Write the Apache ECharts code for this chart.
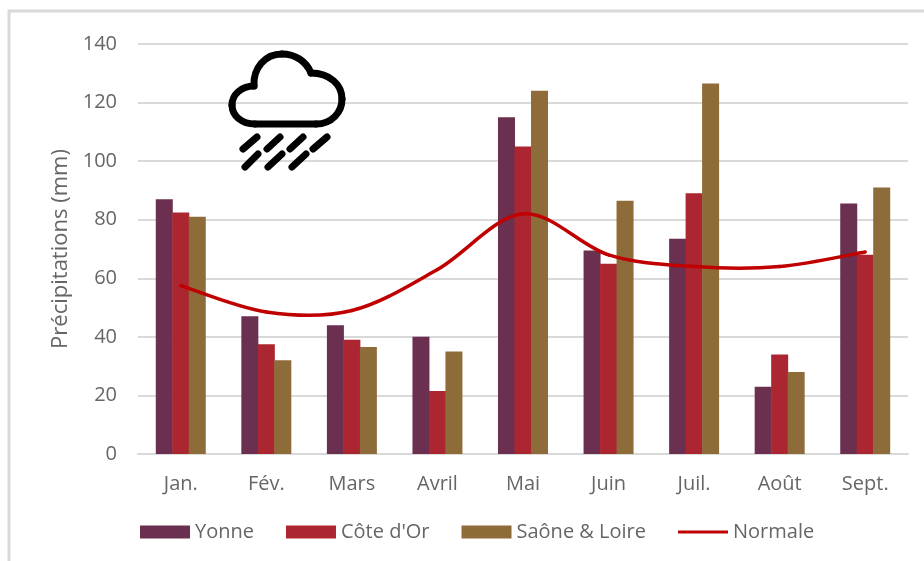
<!DOCTYPE html>
<html><head><meta charset="utf-8">
<style>html,body{margin:0;padding:0;background:#fff}#c{width:924px;height:561px}</style>
<script src="https://cdn.jsdelivr.net/npm/echarts@6/dist/echarts.min.js"></script>
</head><body><div id="c"></div>
<script>
const months = ["Jan.","Fév.","Mars","Avril","Mai","Juin","Juil.","Août","Sept."];
const yonne = [87,47,44,40,115,69.5,73.5,23,85.5];
const coteDor = [82.5,37.5,39,21.5,105,65,89,34,68];
const saone = [81,32,36.5,35,124,86.5,126.5,28,91];
const normale = [57.5,48.5,49,63,82,68,64,64,69];
const font = "Open Sans";
const txt = "#666666";
const lineColor = "#C00000";
const rainDrops = [[243,149,257,137],[267,149,280,137],[290,149,303,137],[313,149,327,137],[245,167,258,154],[268,167,282,154],[292,167,306,154]];
const cloudCurves = [
  [316,124,332,124,342,112,342,99],
  [342,99,342,85,330,73,311,73],
  [311,73,306,61,295,54,282,54],
  [282,54,265,54,253,68,254,86],
  [254,86,241,86,232,95,232,105],
  [232,105,232,116,242,124,255,124]
];
const bar = (name,data,color)=>({name,type:"bar",data,barWidth:17,barGap:"-3%",itemStyle:{color},z:2});
function smoothSegment(params, api){
  const i = params.dataIndex, n = normale.length;
  if (i >= n-1) return null;
  const p = k => api.coord([Math.max(0,Math.min(n-1,k)), normale[Math.max(0,Math.min(n-1,k))]]);
  const p0=p(i-1), p1=p(i), p2=p(i+1), p3=p(i+2);
  return {type:"bezierCurve",shape:{
      x1:p1[0],y1:p1[1],x2:p2[0],y2:p2[1],
      cpx1:p1[0]+(p2[0]-p0[0])/6,cpy1:p1[1]+(p2[1]-p0[1])/6,
      cpx2:p2[0]-(p3[0]-p1[0])/6,cpy2:p2[1]-(p3[1]-p1[1])/6},
    style:{fill:"none",stroke:lineColor,lineWidth:3.5,lineCap:"round"}};
}
const chart = echarts.init(document.getElementById("c"),null,{renderer:"canvas"});
chart.setOption({
  animation:false,
  backgroundColor:"#fff",
  textStyle:{fontFamily:font},
  grid:{left:138,right:16,top:44,bottom:107,containLabel:false},
  legend:{
    left:135,top:517,itemWidth:50,itemHeight:13,itemGap:32,
    textStyle:{fontFamily:font,fontSize:20,color:txt},
    data:[{name:"Yonne",icon:"rect"},{name:"Côte d'Or",icon:"rect"},{name:"Saône & Loire",icon:"rect"},
      {name:"Normale",icon:"path://M0 0H52V3H0Z"}]
  },
  xAxis:{type:"category",data:months,
    axisLine:{lineStyle:{color:"#d9d9d9",width:2}},axisTick:{show:false},
    axisLabel:{fontFamily:font,fontSize:20,color:txt,margin:20}},
  yAxis:{type:"value",min:0,max:140,interval:20,
    name:"Précipitations (mm)",nameLocation:"middle",nameGap:66,
    nameTextStyle:{fontFamily:font,fontSize:22,color:txt},
    axisLine:{show:false},axisTick:{show:false},
    axisLabel:{fontFamily:font,fontSize:20,color:txt,margin:21},
    splitLine:{lineStyle:{color:"#d9d9d9",width:2}}},
  series:[
    bar("Yonne",yonne,"#6B2F4F"),
    bar("Côte d'Or",coteDor,"#AC2631"),
    bar("Saône & Loire",saone,"#8D6C3A"),
    {name:"Normale",type:"custom",data:normale.map((v,i)=>[i,v]),encode:{x:0,y:1},
     renderItem:smoothSegment,z:5,itemStyle:{color:lineColor}}
  ],
  graphic:[
    {type:"rect",silent:true,z:-1,shape:{x:9,y:11,width:1000,height:700},style:{fill:"none",stroke:"#d9d9d9",lineWidth:3}},
    {type:"line",silent:true,z:20,shape:{x1:255,y1:124,x2:316,y2:124},style:{stroke:"#000",lineWidth:7,lineCap:"round"}},
    ...cloudCurves.map(c=>({type:"bezierCurve",silent:true,z:20,
      shape:{x1:c[0],y1:c[1],cpx1:c[2],cpy1:c[3],cpx2:c[4],cpy2:c[5],x2:c[6],y2:c[7]},
      style:{fill:"none",stroke:"#000",lineWidth:7,lineCap:"round"}})),
    ...rainDrops.map(d=>({type:"line",silent:true,z:20,shape:{x1:d[0],y1:d[1],x2:d[2],y2:d[3]},style:{stroke:"#000",lineWidth:7,lineCap:"round"}}))
  ]
});
</script></body></html>
